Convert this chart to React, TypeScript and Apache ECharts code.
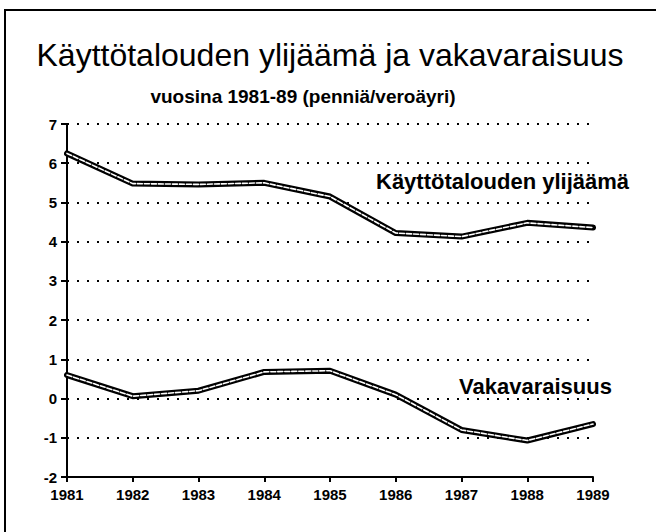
import React, { useEffect, useRef } from "react";
import * as echarts from "echarts";

const years = ["1981", "1982", "1983", "1984", "1985", "1986", "1987", "1988", "1989"];
const surplus = [6.25, 5.48, 5.46, 5.5, 5.15, 4.22, 4.13, 4.48, 4.36];
const solvency = [0.6, 0.06, 0.2, 0.68, 0.71, 0.1, -0.8, -1.07, -0.65];
const titleText = "Käyttötalouden ylijäämä ja vakavaraisuus";
const subtitleText = "vuosina 1981-89 (penniä/veroäyri)";
const surplusLabel = "Käyttötalouden ylijäämä";
const solvencyLabel = "Vakavaraisuus";

const tickFont = "'Liberation Sans Narrow', 'Liberation Sans', Arial, sans-serif";
const mainFont = "'Liberation Sans', Arial, Helvetica, sans-serif";

function lineSeries(data: number[], color: string, width: number, dashed: boolean, z: number) {
  return {
    type: "line",
    data,
    symbol: "none",
    z,
    lineStyle: { color, width, type: dashed ? [5, 2] : "solid", cap: "round", join: "round" },
    silent: true,
  };
}

export default function App() {
  const ref = useRef<HTMLDivElement>(null);
  useEffect(() => {
    if (!ref.current) return;
    const chart = echarts.init(ref.current, undefined, { renderer: "svg" });
    chart.setOption({
      animation: false,
      backgroundColor: "#ffffff",
      grid: { left: 67, right: 63, top: 124, bottom: 55, containLabel: false },
      xAxis: {
        type: "category",
        data: years,
        boundaryGap: false,
        axisLine: { onZero: false, lineStyle: { color: "#000", width: 2 } },
        axisTick: { show: true, length: 5, lineStyle: { color: "#000", width: 2 } },
        axisLabel: { color: "#000", fontFamily: tickFont, fontWeight: "bold", fontSize: 15, margin: 10 },
        splitLine: { show: false },
      },
      yAxis: {
        type: "value",
        min: -2,
        max: 7,
        interval: 1,
        axisLine: { show: true, onZero: false, lineStyle: { color: "#000", width: 2 } },
        axisTick: { show: true, inside: false, length: 6, lineStyle: { color: "#000", width: 2 } },
        axisLabel: { color: "#000", fontFamily: tickFont, fontWeight: "bold", fontSize: 15, margin: 10 },
        splitLine: { show: true, lineStyle: { color: "#000", width: 2, type: [2, 8] } },
      },
      series: [
        lineSeries(surplus, "#000", 6, false, 2),
        lineSeries(surplus, "#fff", 1.6, true, 3),
        lineSeries(solvency, "#000", 6, false, 2),
        lineSeries(solvency, "#fff", 1.6, true, 3),
      ],
      graphic: [
        {
          type: "rect",
          shape: { x: 5, y: 10, width: 800, height: 700 },
          style: { fill: "none", stroke: "#000", lineWidth: 2 },
          silent: true,
        },
        {
          type: "text",
          x: 330,
          y: 55,
          style: { text: titleText, font: `32px ${mainFont}`, fill: "#000", textAlign: "center", textVerticalAlign: "middle" },
        },
        {
          type: "text",
          x: 303,
          y: 96,
          style: { text: subtitleText, font: `bold 19px ${mainFont}`, fill: "#000", textAlign: "center", textVerticalAlign: "middle" },
        },
        {
          type: "text",
          x: 376,
          y: 181,
          style: { text: surplusLabel, font: `bold 22px ${mainFont}`, fill: "#000", textAlign: "left", textVerticalAlign: "middle" },
        },
        {
          type: "text",
          x: 459,
          y: 386,
          style: { text: solvencyLabel, font: `bold 22px ${mainFont}`, fill: "#000", textAlign: "left", textVerticalAlign: "middle" },
        },
      ],
    });
    return () => chart.dispose();
  }, []);
  return (
    <div
      ref={ref}
      style={{ position: "fixed", left: 0, top: 0, width: 656, height: 532, background: "#fff" }}
    />
  );
}
